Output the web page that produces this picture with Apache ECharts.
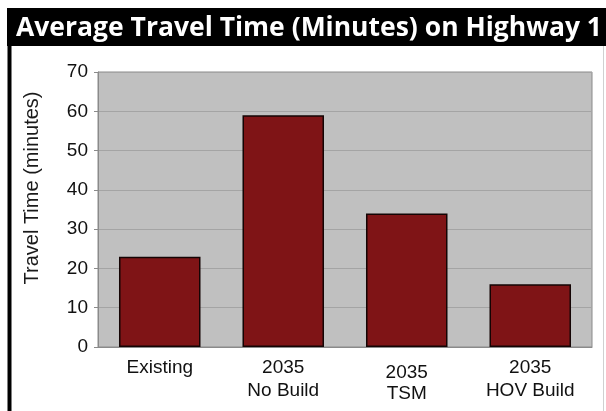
<!DOCTYPE html>
<html>
<head>
<meta charset="utf-8">
<script src="https://cdn.jsdelivr.net/npm/echarts@6/dist/echarts.min.js"></script>
<style>
  html, body { margin: 0; padding: 0; background: #fff; }
  #chart { width: 606px; height: 411px; }
</style>
</head>
<body>
<div id="chart"></div>
<script>
// Scenario names shown under each bar
const categories = ['Existing', '2035\nNo Build', '2035\nTSM', '2035\nHOV Build'];
// Average travel time in minutes for each scenario
const travelMinutes = [23, 59, 34, 16];
// Value axis range and step
const yMin = 0;
const yMax = 70;
const yStep = 10;

const labelFont = 'Arial, "Liberation Sans", sans-serif';
const chart = echarts.init(document.getElementById('chart'), null, { renderer: 'canvas' });

chart.setOption({
  backgroundColor: '#ffffff',
  animation: false,
  graphic: [
    // black header band
    { type: 'rect', shape: { x: 7, y: 8, width: 599, height: 38 }, style: { fill: '#000' } },
    {
      type: 'text', x: 309, y: 28,
      style: {
        text: 'Average Travel Time (Minutes) on Highway 1',
        fill: '#fff', font: 'bold 26.5px "Open Sans", sans-serif',
        align: 'center', verticalAlign: 'middle'
      }
    },
    // frame lines
    { type: 'rect', shape: { x: 7.5, y: 46, width: 4, height: 365 }, style: { fill: '#000' } },
    { type: 'line', shape: { x1: 603.5, y1: 46, x2: 603.5, y2: 411 }, style: { stroke: '#d0d0d0', lineWidth: 1 } },
    // value axis title
    {
      type: 'text', x: 32, y: 188, rotation: Math.PI / 2,
      style: {
        text: 'Travel Time (minutes)', fill: '#1a1a1a',
        font: '20px ' + labelFont,
        align: 'center', verticalAlign: 'middle'
      }
    }
  ],
  grid: {
    left: 98, right: 14, top: 72, bottom: 64,
    show: true, backgroundColor: '#c0c0c0', borderColor: '#8a8a8a', borderWidth: 1
  },
  xAxis: {
    type: 'category',
    data: categories.map(function (c) {
      return c === '2035\nTSM'
        ? { value: c, textStyle: { padding: [6, 0, 0, 0], lineHeight: 21 } }
        : c;
    }),
    axisLine: { lineStyle: { color: '#8a8a8a', width: 1 } },
    axisTick: { show: false },
    axisLabel: {
      color: '#111', fontSize: 19, fontFamily: labelFont,
      lineHeight: 23, margin: 9, interval: 0
    }
  },
  yAxis: {
    type: 'value', min: yMin, max: yMax, interval: yStep,
    axisLine: { show: true, lineStyle: { color: '#8a8a8a', width: 1 } },
    axisTick: { show: true, length: 4, lineStyle: { color: '#8a8a8a' } },
    splitLine: { lineStyle: { color: '#a4a4a4', width: 1 } },
    axisLabel: {
      color: '#111', fontSize: 19, fontFamily: labelFont, margin: 10
    }
  },
  series: [{
    type: 'bar',
    data: travelMinutes,
    barWidth: '66%',
    itemStyle: { color: '#7f1416', borderColor: '#140404', borderWidth: 1.5 }
  }]
});
</script>
</body>
</html>
